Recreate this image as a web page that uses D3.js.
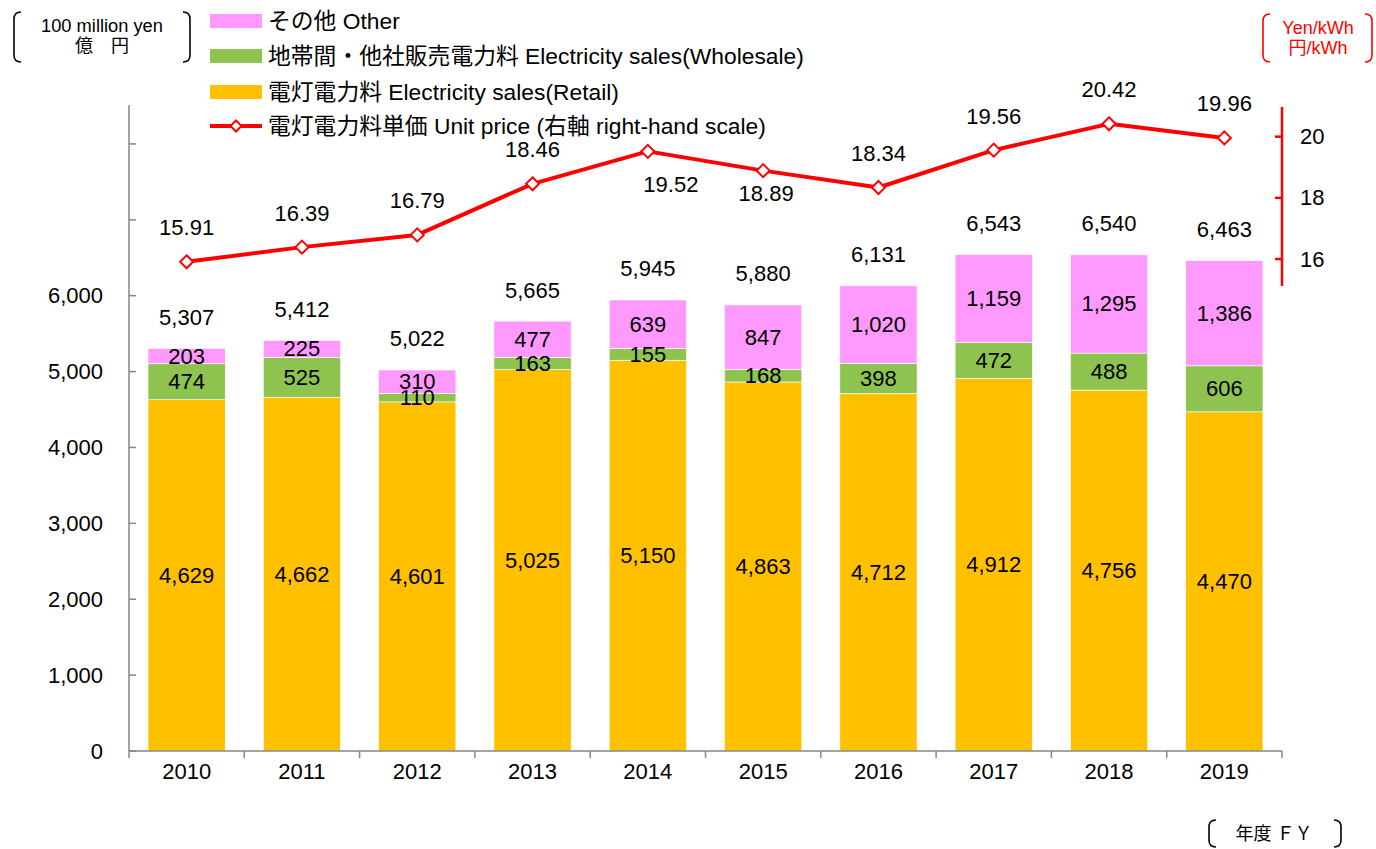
<!DOCTYPE html>
<html><head><meta charset="utf-8">
<script src="https://cdn.jsdelivr.net/npm/d3@7"></script>
<style>
html,body{margin:0;padding:0;background:#fff;}
svg{display:block;font-family:"Liberation Sans",Arial,"Noto Sans CJK JP",sans-serif;}
</style></head>
<body>
<svg id="chart" width="1376" height="849"></svg>
<script>
const years = ["2010","2011","2012","2013","2014","2015","2016","2017","2018","2019"];
const retail = [4629,4662,4601,5025,5150,4863,4712,4912,4756,4470];
const wholesale = [474,525,110,163,155,168,398,472,488,606];
const other = [203,225,310,477,639,847,1020,1159,1295,1386];
const totals = [5307,5412,5022,5665,5945,5880,6131,6543,6540,6463];
const unitPrice = [15.91,16.39,16.79,18.46,19.52,18.89,18.34,19.56,20.42,19.96];
const leftTicks = [0,1000,2000,3000,4000,5000,6000,7000,8000];
const leftTickLabels = ["0","1,000","2,000","3,000","4,000","5,000","6,000","",""];
const rightTicks = [16,18,20];
const seriesNames = ["その他 Other","地帯間・他社販売電力料 Electricity sales(Wholesale)","電灯電力料 Electricity sales(Retail)","電灯電力料単価 Unit price (右軸 right-hand scale)"];
const colors = {retail:"#FFC000", wholesale:"#8DC34E", other:"#FF99FF", price:"#FF0000"};

// label placement (layout only)
const priceLabelOffset = {"2014":[23,33], "2015":[3,23]};

const svg = d3.select("#chart");
const fmt = d3.format(",");
const FS = 22;

const x = d3.scaleBand().domain(years).range([129,1282]).paddingInner(0.33).paddingOuter(0.165);
const y = d3.scaleLinear().domain([0,8500]).range([751,106]);
const yR = d3.scaleLinear().domain([15.12,20.97]).range([286,107]);

const rows = years.map((yr,i)=>({year:yr, retail:retail[i], wholesale:wholesale[i], other:other[i]}));
const keys = ["retail","wholesale","other"];
const stack = d3.stack().keys(keys)(rows);

const g = svg.append("g");
stack.forEach(layer=>{
  g.selectAll(null).data(layer).join("rect")
    .attr("x",d=>x(d.data.year)).attr("width",x.bandwidth())
    .attr("y",d=>y(d[1])).attr("height",d=>y(d[0])-y(d[1]))
    .attr("fill",colors[layer.key]).attr("stroke","#fff").attr("stroke-width",0.6);
});
stack.forEach(layer=>{
  g.selectAll(null).data(layer).join("text")
    .attr("x",d=>x(d.data.year)+x.bandwidth()/2)
    .attr("y",d=>(y(d[0])+y(d[1]))/2)
    .attr("text-anchor","middle").attr("dominant-baseline","central")
    .attr("font-size",FS).attr("fill","#000")
    .text(d=>fmt(d.data[layer.key]));
});
g.selectAll(null).data(years).join("text")
  .attr("x",d=>x(d)+x.bandwidth()/2)
  .attr("y",(d,i)=>y(d3.sum([retail[i],wholesale[i],other[i]]))-31)
  .attr("text-anchor","middle").attr("dominant-baseline","central")
  .attr("font-size",FS).text((d,i)=>fmt(totals[i]));

// left axis
const axL = svg.append("g");
axL.append("line").attr("x1",129).attr("x2",129).attr("y1",105).attr("y2",751).attr("stroke","#868686").attr("stroke-width",1.5);
axL.selectAll(null).data(leftTicks).join("line")
  .attr("x1",129).attr("x2",136).attr("y1",d=>y(d)).attr("y2",d=>y(d)).attr("stroke","#868686").attr("stroke-width",1.5);
axL.selectAll(null).data(leftTicks).join("text")
  .attr("x",103).attr("y",d=>y(d)).attr("text-anchor","end").attr("dominant-baseline","central")
  .attr("font-size",FS).text((d,i)=>leftTickLabels[i]);

// x axis
const axX = svg.append("g");
axX.append("line").attr("x1",129).attr("x2",1282).attr("y1",751).attr("y2",751).attr("stroke","#868686").attr("stroke-width",1.5);
const step = x.step();
axX.selectAll(null).data(d3.range(years.length+1)).join("line")
  .attr("x1",i=>129+i*step).attr("x2",i=>129+i*step).attr("y1",751).attr("y2",758)
  .attr("stroke","#868686").attr("stroke-width",1.5);
axX.selectAll(null).data(years).join("text")
  .attr("x",d=>x(d)+x.bandwidth()/2).attr("y",771).attr("text-anchor","middle").attr("dominant-baseline","central")
  .attr("font-size",FS).text(d=>d);

// right axis
const axR = svg.append("g");
axR.append("line").attr("x1",1282).attr("x2",1282).attr("y1",107).attr("y2",286).attr("stroke",colors.price).attr("stroke-width",2.5);
axR.selectAll(null).data(rightTicks).join("line")
  .attr("x1",1275).attr("x2",1282).attr("y1",d=>yR(d)).attr("y2",d=>yR(d)).attr("stroke",colors.price).attr("stroke-width",2.5);
axR.selectAll(null).data(rightTicks).join("text")
  .attr("x",1300).attr("y",d=>yR(d)).attr("dominant-baseline","central").attr("font-size",FS).text(d=>d);

// price line
const cx = d=>x(d)+x.bandwidth()/2;
const line = d3.line().x((d,i)=>cx(years[i])).y(d=>yR(d));
svg.append("path").datum(unitPrice).attr("d",line).attr("fill","none").attr("stroke",colors.price).attr("stroke-width",4).attr("stroke-linejoin","round");
const diamond = (px,py,r)=>`M${px},${py-r}L${px+r},${py}L${px},${py+r}L${px-r},${py}Z`;
svg.selectAll(null).data(unitPrice).join("path")
  .attr("d",(d,i)=>diamond(cx(years[i]),yR(d),6.5))
  .attr("fill","#fff").attr("stroke",colors.price).attr("stroke-width",2);
svg.selectAll(null).data(unitPrice).join("text")
  .attr("x",(d,i)=>cx(years[i])+(priceLabelOffset[years[i]]?priceLabelOffset[years[i]][0]:0))
  .attr("y",(d,i)=>yR(d)+(priceLabelOffset[years[i]]?priceLabelOffset[years[i]][1]:-34))
  .attr("text-anchor","middle").attr("dominant-baseline","central").attr("font-size",FS)
  .text(d=>d.toFixed(2));

// legend
const LFS = 22.8;
const leg = svg.append("g");
const legY = [21,56,92,126];
const legColors = [colors.other,colors.wholesale,colors.retail];
legColors.forEach((c,i)=>{
  leg.append("rect").attr("x",210).attr("y",legY[i]-7).attr("width",52).attr("height",14).attr("fill",c);
});
leg.append("line").attr("x1",210).attr("x2",262).attr("y1",legY[3]).attr("y2",legY[3]).attr("stroke",colors.price).attr("stroke-width",4);
leg.append("path").attr("d",diamond(236,legY[3],5.5)).attr("fill","#fff").attr("stroke",colors.price).attr("stroke-width",2);
seriesNames.forEach((s,i)=>{
  leg.append("text").attr("x",268).attr("y",legY[i]).attr("dominant-baseline","central").attr("font-size",LFS).text(s);
});

// bracket boxes
function bracketBox(x1,x2,yt,yb,color){
  const r=7;
  svg.append("path").attr("d",`M${x1+r},${yt}Q${x1},${yt} ${x1},${yt+r}L${x1},${yb-r}Q${x1},${yb} ${x1+r},${yb}`)
    .attr("fill","none").attr("stroke",color).attr("stroke-width",1.6);
  svg.append("path").attr("d",`M${x2-r},${yt}Q${x2},${yt} ${x2},${yt+r}L${x2},${yb-r}Q${x2},${yb} ${x2-r},${yb}`)
    .attr("fill","none").attr("stroke",color).attr("stroke-width",1.6);
}
bracketBox(14,190,12,62,"#000");
svg.append("text").attr("x",102).attr("y",25).attr("text-anchor","middle").attr("dominant-baseline","central").attr("font-size",18.3).text("100 million yen");
svg.append("text").attr("x",102).attr("y",46).attr("text-anchor","middle").attr("dominant-baseline","central").attr("font-size",18).text("億　円");

bracketBox(1263,1372,14,62,colors.price);
svg.append("text").attr("x",1318).attr("y",28).attr("text-anchor","middle").attr("dominant-baseline","central").attr("font-size",18).attr("fill",colors.price).text("Yen/kWh");
svg.append("text").attr("x",1318).attr("y",48).attr("text-anchor","middle").attr("dominant-baseline","central").attr("font-size",18).attr("fill",colors.price).text("円/kWh");

bracketBox(1209,1341,820,847,"#000");
svg.append("text").attr("x",1274).attr("y",834).attr("text-anchor","middle").attr("dominant-baseline","central").attr("font-size",18).text("年度 ＦＹ");
</script>
</body></html>
